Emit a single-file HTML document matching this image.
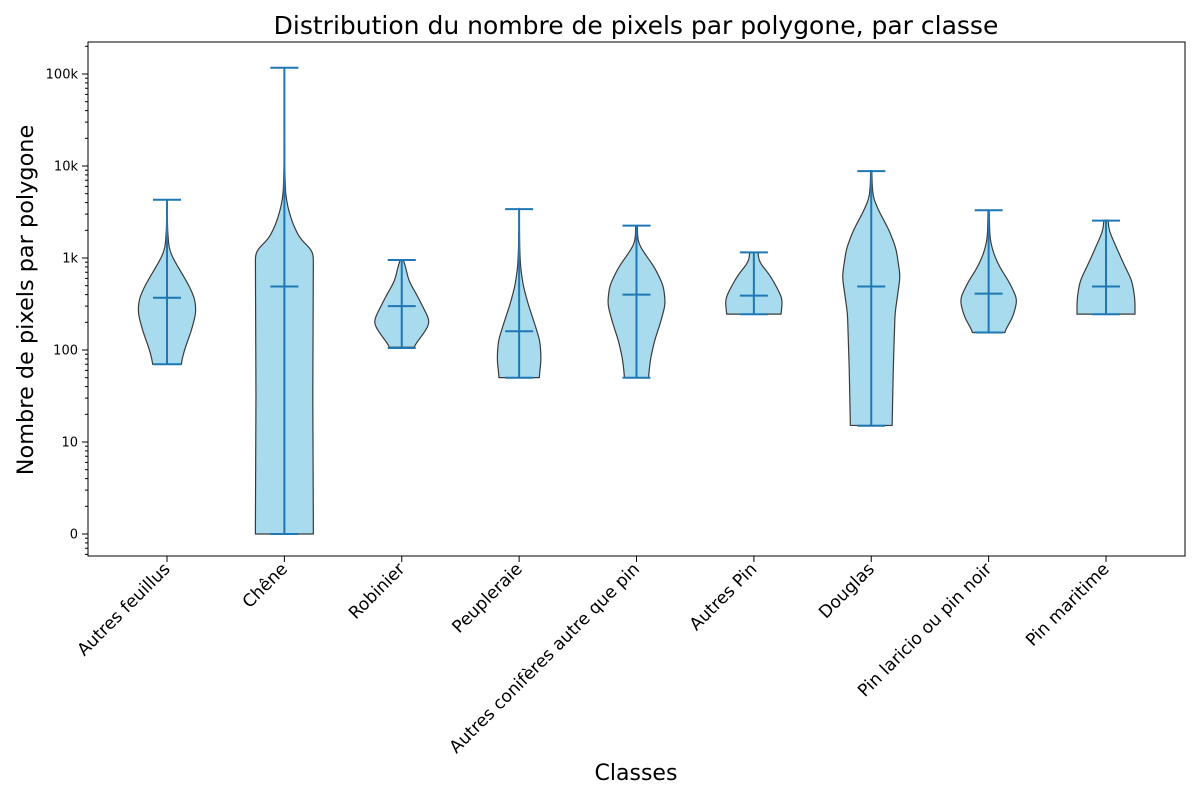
<!DOCTYPE html>
<html><head><meta charset="utf-8"><style>
html,body{margin:0;padding:0;background:#fff;}
svg{display:block;font-family:"DejaVu Sans","Liberation Sans",sans-serif;}
</style></head><body>
<svg id="chart" width="1200" height="800" viewBox="0 0 1200 800">
<text x="636" y="34" font-size="25" text-anchor="middle">Distribution du nombre de pixels par polygone, par classe</text>
<text x="636" y="780" font-size="22" text-anchor="middle">Classes</text>
<text transform="translate(33,300) rotate(-90)" font-size="22.4" text-anchor="middle">Nombre de pixels par polygone</text>
<g id="plot"></g>
<rect x="88" y="42" width="1097" height="514" fill="none" stroke="#000" stroke-width="1"/>
</svg>
<script>
const categories=["Autres feuillus","Chêne","Robinier","Peupleraie","Autres conifères autre que pin","Autres Pin","Douglas","Pin laricio ou pin noir","Pin maritime"];
const mins=[70,1,105,50,50,245,15,155,245];
const maxs=[4300,117000,950,3400,2250,1150,8800,3300,2550];
const medians=[370,490,300,160,400,390,490,410,490];
// density profiles: log10 levels and relative widths (0..1)
const profLogs=[
 [1.845,2.0,2.2,2.4,2.55,2.7,2.85,3.0,3.1,3.3,3.5,3.63],
 [0,1.5,3.08,3.2,3.38,3.55,3.7,4.0,4.5,5.07],
 [2.03,2.15,2.3,2.45,2.6,2.75,2.85,2.95,2.98],
 [1.70,1.9,2.1,2.3,2.5,2.7,2.9,3.1,3.54],
 [1.70,1.9,2.1,2.3,2.5,2.7,2.9,3.05,3.15,3.25,3.35],
 [2.39,2.55,2.7,2.85,2.95,3.06],
 [1.18,1.8,2.4,2.8,3.1,3.3,3.5,3.65,3.8,3.95],
 [2.19,2.35,2.55,2.75,2.9,3.05,3.2,3.35,3.52],
 [2.39,2.55,2.75,2.95,3.15,3.3,3.41]];
const profWidths=[
 [0.48,0.6,0.83,1.0,0.97,0.76,0.48,0.2,0.07,0.02,0.01,0],
 [1.0,0.98,1.0,0.55,0.28,0.12,0.04,0.01,0.005,0],
 [0.38,0.69,1.0,0.76,0.52,0.24,0.17,0.1,0.02],
 [0.69,0.76,0.72,0.52,0.31,0.14,0.05,0.02,0],
 [0.41,0.48,0.62,0.83,1.0,0.93,0.62,0.28,0.07,0.03,0.03],
 [0.93,1.0,0.76,0.48,0.17,0.14],
 [0.72,0.76,0.82,1.0,0.86,0.62,0.28,0.07,0.03,0.02],
 [0.52,0.83,1.0,0.69,0.38,0.17,0.05,0.03,0.02],
 [1.0,1.0,0.9,0.59,0.31,0.1,0.07]];
const yTickVals=[1,10,100,1000,10000,100000];
const yTickLabels=["0","10","100","1k","10k","100k"];

const NS="http://www.w3.org/2000/svg";
const g=document.getElementById('plot');
const L=88,R=1185,T=42,B=556;
const yScale=v=>534-92*Math.log10(v);
const yLog=l=>534-92*l;
const xScale=i=>167+i*(1106-167)/(categories.length-1);
const HALF=29;
function mk(tag,attrs){const e=document.createElementNS(NS,tag);for(const k in attrs)e.setAttribute(k,attrs[k]);return e;}
for(let d=-1;d<=5;d++){for(let m=1;m<10;m++){const v=m*Math.pow(10,d);const y=yScale(v);if(y<T||y>B)continue;
 const major=m===1;
 const t=mk('line',{x1:L,x2:L-(major?6:3),y1:y,y2:y,stroke:'#000','stroke-width':1});
 
 
 g.appendChild(t);}}
yTickVals.forEach((v,i)=>{const t=mk('text',{x:L-10,y:yScale(v)+4.5,'font-size':13,'text-anchor':'end'});t.textContent=yTickLabels[i];
 
 
 g.appendChild(t);});
categories.forEach((c,i)=>{const x=xScale(i);
 const t=mk('line',{x1:x,x2:x,y1:B,y2:B+6,stroke:'#000','stroke-width':1});
 
 
 g.appendChild(t);
 const tx=mk('text',{transform:`translate(${x+4},${B+14}) rotate(-45)`,'font-size':17.2,'text-anchor':'end'});
 tx.textContent=c;
 
 
 g.appendChild(tx);});
function sample(ls,ws){
 const lo=ls[0],hi=ls[ls.length-1],step=0.01;const n=Math.max(2,Math.round((hi-lo)/step));
 const raw=[];for(let s=0;s<=n;s++){const l=lo+(hi-lo)*s/n;let k=0;while(k<ls.length-2&&l>ls[k+1])k++;
  const t=(l-ls[k])/(ls[k+1]-ls[k]);raw.push([l,ws[k]+(ws[k+1]-ws[k])*Math.min(1,Math.max(0,t))]);}
 const sig=0.05/step,rad=Math.ceil(sig*3);
 return raw.map((p,s)=>{let sw=0,sv=0;for(let j=-rad;j<=rad;j++){const q=Math.min(n,Math.max(0,s+j));const w=Math.exp(-j*j/(2*sig*sig));sw+=w;sv+=w*raw[q][1];}return [p[0],sv/sw];});}
categories.forEach((c,i)=>{const x=xScale(i);const pts=sample(profLogs[i],profWidths[i]);
 const right=pts.map(p=>[x+p[1]*HALF,yLog(p[0])]);
 const left=pts.map(p=>[x-p[1]*HALF,yLog(p[0])]).reverse();
 const d='M'+right.concat(left).map(p=>p[0].toFixed(2)+','+p[1].toFixed(2)).join('L')+'Z';
 const p=mk('path',{d:d,fill:'#a8dbee',stroke:'#3a3a3a','stroke-width':1.2,'stroke-linejoin':'round'});
 
 
 g.appendChild(p);
 const col='#1f77b4';
 const v=mk('line',{x1:x,x2:x,y1:yScale(mins[i]),y2:yScale(maxs[i]),stroke:col,'stroke-width':2});
 
 
 g.appendChild(v);
 [[mins[i],'violin-min-cap'],[maxs[i],'violin-max-cap'],[medians[i],'violin-median']].forEach(([val,nm])=>{
  const h=mk('line',{x1:x-14,x2:x+14,y1:yScale(val),y2:yScale(val),stroke:col,'stroke-width':2});
  
  
  g.appendChild(h);});
});
</script>
</body></html>
